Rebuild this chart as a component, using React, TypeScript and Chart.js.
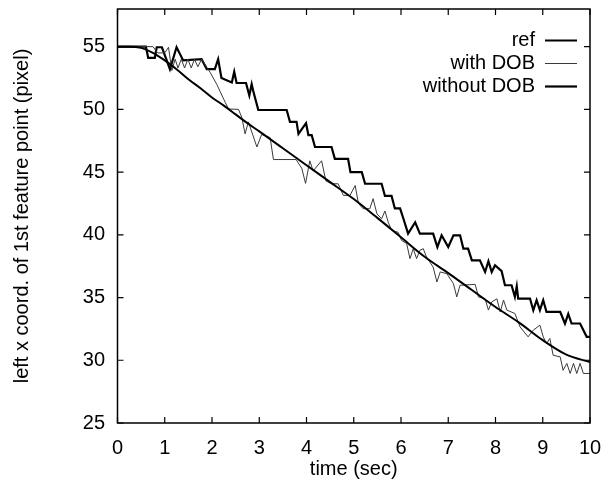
import React, { useEffect, useRef } from "react";
import { Chart, registerables } from "chart.js";

Chart.register(...registerables);

const xTickValues = [0, 1, 2, 3, 4, 5, 6, 7, 8, 9, 10];
const yTickValues = [25, 30, 35, 40, 45, 50, 55];
const seriesNames = ["ref", "with DOB", "without DOB"];

const refTimes = [0, 0.25, 0.5, 0.75, 1, 1.25, 1.5, 1.75, 2, 2.25, 2.5, 2.75, 3, 3.5, 4, 4.5, 5, 5.5, 6, 6.5, 7, 7.5, 8, 8.5, 9, 9.5, 10];
const refValues = [55, 55, 54.9, 54.5, 53.9, 53.2, 52.4, 51.7, 50.95, 50.3, 49.6, 48.9, 48.25, 46.9, 45.55, 44.2, 42.85, 41.35, 39.8, 38.25, 36.95, 35.6, 34.25, 33.0, 31.6, 30.45, 29.85];

const withTimes = [0, 0.3, 0.75, 0.85, 1.0, 1.08, 1.15, 1.22, 1.28, 1.35, 1.42, 1.49, 1.56, 1.63, 1.7, 1.78, 1.96, 2.1, 2.28, 2.35, 2.56, 2.63, 2.7, 2.77, 2.95, 3.05, 3.23, 3.3, 3.78, 3.9, 3.98, 4.07, 4.14, 4.32, 4.41, 4.53, 4.67, 4.78, 4.92, 5.03, 5.1, 5.2, 5.34, 5.41, 5.49, 5.59, 5.66, 5.73, 5.8, 5.94, 6.01, 6.12, 6.19, 6.26, 6.33, 6.4, 6.47, 6.54, 6.68, 6.76, 6.83, 6.97, 7.11, 7.18, 7.25, 7.57, 7.64, 7.78, 7.85, 7.92, 8.03, 8.1, 8.17, 8.24, 8.41, 8.52, 8.69, 8.8, 8.94, 9.01, 9.08, 9.15, 9.22, 9.37, 9.43, 9.51, 9.58, 9.65, 9.72, 9.79, 9.86, 10];
const withValues = [55, 55, 55, 54.5, 54.5, 54.95, 53.1, 54.0, 53.3, 54.0, 53.3, 54.0, 53.3, 54.0, 53.4, 54.0, 52.95, 52.0, 50.56, 50.03, 50.0, 49.37, 48.05, 49.0, 47.0, 48.0, 47.75, 46.0, 46.0, 45.3, 44.1, 45.9, 45.1, 45.9, 44.3, 44.07, 44.07, 43.14, 43.14, 43.93, 42.5, 42.08, 42.08, 42.88, 41.68, 41.28, 41.9, 41.0, 40.35, 40.2, 39.56, 39.3, 38.1, 38.9, 38.1, 38.76, 38.9, 38.23, 37.43, 36.24, 37.04, 36.9, 36.11, 35.05, 35.98, 36.05, 35.05, 34.9, 34.0, 34.65, 34.9, 33.85, 34.8, 34.0, 33.73, 32.66, 31.87, 32.4, 32.8, 31.87, 31.34, 31.74, 30.4, 30.27, 29.2, 29.75, 28.95, 29.75, 28.95, 29.75, 28.95, 28.95];

const withoutTimes = [0, 0.6, 0.65, 0.79, 0.83, 0.94, 1.11, 1.25, 1.39, 1.78, 1.89, 2.06, 2.13, 2.2, 2.42, 2.47, 2.52, 2.72, 2.79, 2.84, 2.87, 2.98, 3.58, 3.65, 3.79, 3.83, 3.99, 4.04, 4.11, 4.18, 4.53, 4.6, 4.88, 4.93, 5.17, 5.24, 5.59, 5.66, 5.8, 5.87, 5.98, 6.05, 6.15, 6.3, 6.4, 6.68, 6.77, 6.86, 7.0, 7.11, 7.25, 7.32, 7.42, 7.5, 7.67, 7.78, 7.85, 7.92, 7.99, 8.13, 8.2, 8.34, 8.41, 8.45, 8.48, 8.73, 8.8, 8.87, 8.94, 9.01, 9.08, 9.37, 9.47, 9.54, 9.61, 9.79, 9.93, 10];
const withoutValues = [55, 55, 54.1, 54.1, 54.95, 54.95, 53.2, 54.95, 53.9, 54.0, 53.2, 53.2, 54.0, 52.5, 52.15, 53.0, 52.1, 52.1, 51.1, 52.0, 51.5, 49.95, 49.95, 49.0, 49.0, 48.05, 48.9, 47.95, 47.95, 47.0, 47.0, 46.05, 46.05, 45.0, 45.0, 44.07, 44.07, 43.1, 43.1, 42.1, 42.1, 41.3, 40.1, 41.0, 40.1, 40.1, 39.03, 39.96, 39.03, 39.96, 39.96, 38.9, 38.9, 37.97, 37.97, 37.04, 37.9, 37.04, 37.57, 37.1, 35.98, 35.98, 35.05, 35.9, 34.92, 34.92, 33.99, 34.79, 33.99, 34.79, 33.85, 33.85, 32.93, 33.7, 32.93, 32.93, 31.87, 31.87];

const FONT_FAMILY = '"Liberation Sans", Arial, Helvetica, sans-serif';
const toPoints = (xs: number[], ys: number[]) => xs.map((x, i) => ({ x, y: ys[i] }));

const framePlugin = {
  id: "frameTicks",
  afterDatasetsDraw(chart: any) {
    const { ctx, chartArea, scales } = chart;
    const { left, right, top, bottom } = chartArea;
    ctx.save();
    ctx.strokeStyle = "#000";
    ctx.lineWidth = 1.5;
    ctx.strokeRect(left, top, right - left, bottom - top);
    const tl = 6;
    ctx.lineWidth = 1.2;
    ctx.beginPath();
    xTickValues.forEach((v) => {
      const px = scales.x.getPixelForValue(v);
      ctx.moveTo(px, bottom);
      ctx.lineTo(px, bottom - tl);
      ctx.moveTo(px, top);
      ctx.lineTo(px, top + tl);
    });
    yTickValues.forEach((v) => {
      const py = scales.y.getPixelForValue(v);
      ctx.moveTo(left, py);
      ctx.lineTo(left + tl, py);
      ctx.moveTo(right, py);
      ctx.lineTo(right - tl, py);
    });
    ctx.stroke();

    // legend (gnuplot style: text then line sample)
    ctx.font = `20px ${FONT_FAMILY}`;
    ctx.fillStyle = "#000";
    ctx.textAlign = "right";
    ctx.textBaseline = "middle";
    const textRight = right - 55;
    const lineStart = right - 45;
    const lineEnd = right - 13;
    chart.data.datasets.forEach((ds: any, i: number) => {
      const y = top + 31 + i * 23;
      ctx.fillText(seriesNames[i], textRight, y);
      ctx.beginPath();
      ctx.strokeStyle = ds.borderColor;
      ctx.lineWidth = ds.borderWidth;
      ctx.moveTo(lineStart, y + 0.5);
      ctx.lineTo(lineEnd, y + 0.5);
      ctx.stroke();
    });
    ctx.restore();
  },
};

export default function App() {
  const canvasRef = useRef<HTMLCanvasElement | null>(null);

  useEffect(() => {
    if (!canvasRef.current) return;
    const font = { family: FONT_FAMILY, size: 20 };
    const chart = new Chart(canvasRef.current, {
      type: "line",
      data: {
        datasets: [
          {
            label: seriesNames[0],
            data: toPoints(refTimes, refValues),
            borderColor: "#000",
            borderWidth: 2,
            pointRadius: 0,
            cubicInterpolationMode: "monotone",
            fill: false,
          },
          {
            label: seriesNames[1],
            data: toPoints(withTimes, withValues),
            borderColor: "#3a3a3a",
            borderWidth: 1,
            pointRadius: 0,
            tension: 0,
            fill: false,
          },
          {
            label: seriesNames[2],
            data: toPoints(withoutTimes, withoutValues),
            borderColor: "#000",
            borderWidth: 2.2,
            pointRadius: 0,
            tension: 0,
            fill: false,
          },
        ],
      },
      options: {
        responsive: false,
        animation: false,
        devicePixelRatio: 1,
        layout: { padding: { left: 0, right: 21, top: 9, bottom: 0 } },
        plugins: { legend: { display: false }, tooltip: { enabled: false } },
        scales: {
          x: {
            type: "linear",
            min: 0,
            max: 10,
            afterBuildTicks: (s: any) => {
              s.ticks = xTickValues.map((v) => ({ value: v }));
            },
            afterFit: (s: any) => {
              s.height = 64;
              s.paddingLeft = 0;
              s.paddingRight = 0;
            },
            ticks: { font, color: "#000", padding: 13, maxRotation: 0, autoSkip: false },
            grid: { display: false, drawTicks: false },
            border: { display: false },
            title: {
              display: true,
              text: "time (sec)",
              font,
              color: "#000",
              padding: { top: 0, bottom: 6 },
            },
          },
          y: {
            type: "linear",
            min: 25,
            max: 58,
            afterBuildTicks: (s: any) => {
              s.ticks = yTickValues.map((v) => ({ value: v }));
            },
            afterFit: (s: any) => {
              s.width = 117.5;
              s.paddingTop = 0;
              s.paddingBottom = 0;
            },
            ticks: { font, color: "#000", padding: 12.5, autoSkip: false },
            grid: { display: false, drawTicks: false },
            border: { display: false },
            title: {
              display: true,
              text: "left x coord. of 1st feature point (pixel)",
              font,
              color: "#000",
              padding: { top: 10, bottom: 0 },
            },
          },
        },
      },
      plugins: [framePlugin],
    } as any);
    return () => chart.destroy();
  }, []);

  return (
    <div style={{ position: "absolute", left: 0, top: 0, width: 611, height: 487, background: "#fff" }}>
      <canvas ref={canvasRef} width={611} height={487} style={{ width: 611, height: 487, display: "block" }} />
    </div>
  );
}
